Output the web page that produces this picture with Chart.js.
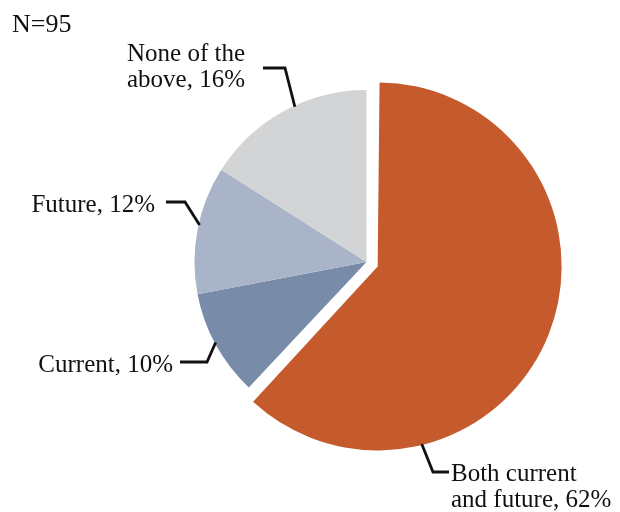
<!DOCTYPE html>
<html>
<head>
<meta charset="utf-8">
<script src="https://cdn.jsdelivr.net/npm/chart.js@4"></script>
<style>
  body { margin: 0; background: #fff; }
  #wrap { position: relative; width: 620px; height: 512px; }
</style>
</head>
<body>
<div id="wrap"><canvas id="myChart"></canvas></div>
<script>
// survey answers, going clockwise from 12 o'clock
const categories = ['Both current and future', 'Current', 'Future', 'None of the above'];
const shares = [62, 10, 12, 16];
const sliceColors = ['#C55A2C', '#788BA8', '#A9B4C8', '#D3D4D6'];
const respondents = 95;

// label text per slice (line breaks as printed)
const labelLines = [
    ['Both current', 'and future, ' + shares[0] + '%'],
    ['Current, ' + shares[1] + '%'],
    ['Future, ' + shares[2] + '%'],
    ['None of the', 'above, ' + shares[3] + '%']
];

// where each label sits and where its leader line bends
// at = position along the slice where the leader touches the edge
const labelSpots = [
    { x: 451, y: 481, align: 'left',  from: [449, 472], bend: [433, 472], at: 0.744 },
    { x: 173, y: 372, align: 'right', from: [180, 362], bend: [207, 362], at: 0.52 },
    { x: 155, y: 212, align: 'right', from: [166, 202], bend: [185, 202], at: 0.54 },
    { x: 245, y: 61,  align: 'right', from: [263, 68],  bend: [285, 68],  at: 0.57 }
];

const FONT = '25px "Liberation Serif", "Times New Roman", serif';

const pieLabels = {
    id: 'pieLabels',
    afterDatasetsDraw(chart) {
        const ctx = chart.ctx;
        const arcs = chart.getDatasetMeta(0).data;
        ctx.save();
        ctx.font = FONT;
        ctx.fillStyle = '#111';
        ctx.strokeStyle = '#111';
        ctx.lineWidth = 2.8;
        ctx.textBaseline = 'alphabetic';

        arcs.forEach((arc, i) => {
            const spot = labelSpots[i];
            const o = (arc.options.offset || 0) / 4;
            const mid = (arc.startAngle + arc.endAngle) / 2;
            const cx = arc.x + Math.cos(mid) * o;
            const cy = arc.y + Math.sin(mid) * o;
            const r = arc.outerRadius + o;
            const a = arc.startAngle + spot.at * (arc.endAngle - arc.startAngle);
            const ex = cx + Math.cos(a) * (r - 1);
            const ey = cy + Math.sin(a) * (r - 1);

            ctx.beginPath();
            ctx.moveTo(spot.from[0], spot.from[1]);
            ctx.lineTo(spot.bend[0], spot.bend[1]);
            ctx.lineTo(ex, ey);
            ctx.stroke();

            ctx.textAlign = spot.align;
            labelLines[i].forEach((line, k) => {
                ctx.fillText(line, spot.x, spot.y + k * 26);
            });
        });

        ctx.font = '26px "Liberation Serif", "Times New Roman", serif';
        ctx.textAlign = 'left';
        ctx.fillText('N=' + respondents, 12, 32);
        ctx.restore();
    }
};

const ctx = document.getElementById('myChart').getContext('2d');
const myChart = new Chart(ctx, {
    type: 'pie',
    data: {
        labels: categories,
        datasets: [{
            data: shares,
            backgroundColor: sliceColors,
            borderWidth: 0,
            offset: [48, 0, 0, 0],
            hoverOffset: 0
        }]
    },
    options: {
        responsive: true,
        maintainAspectRatio: false,
        animation: false,
        radius: 172,
        layout: { padding: { left: 120, right: 7, top: 20, bottom: 8 } },
        plugins: {
            legend: { display: false },
            tooltip: { enabled: false }
        },
        events: []
    },
    plugins: [pieLabels]
});
</script>
</body>
</html>
